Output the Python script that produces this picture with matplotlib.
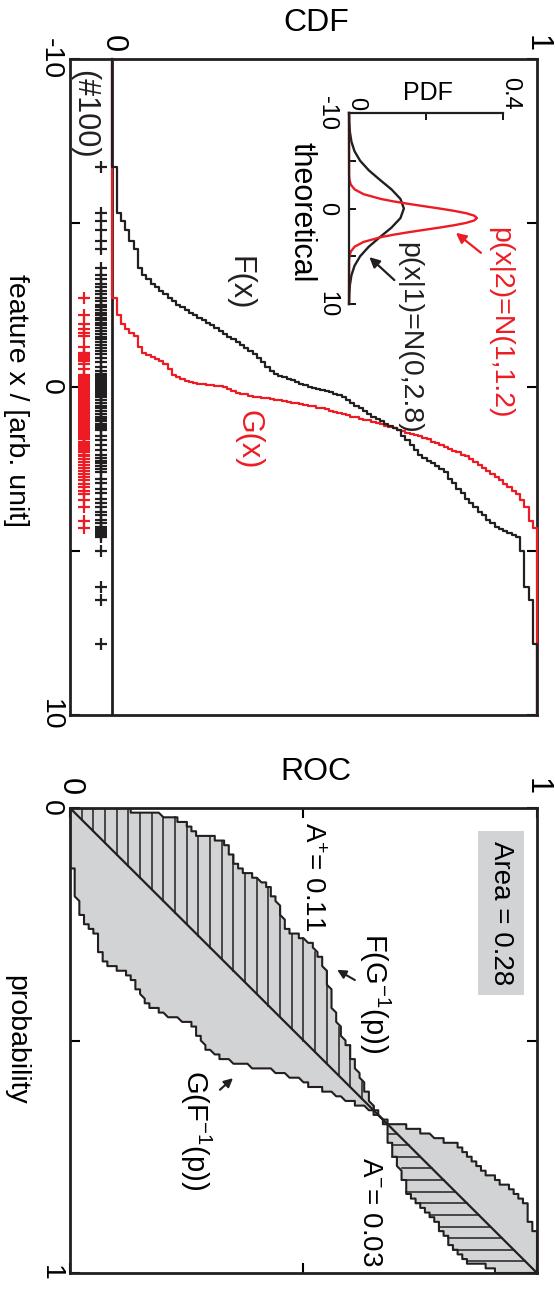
import numpy as np
import matplotlib
matplotlib.use('Agg')
import matplotlib.pyplot as plt

plt.rcParams['font.family'] = ['Liberation Sans', 'DejaVu Sans']
plt.rcParams['mathtext.fontset'] = 'custom'
plt.rcParams['mathtext.rm'] = 'Liberation Sans'
plt.rcParams['mathtext.it'] = 'Liberation Sans:italic'

RED = '#ed1c24'
BLK = '#231f20'
GRAY = '#d1d3d4'

# --- data: 100 samples of each class ---
feature_1 = [-6.70, -5.30, -5.05, -4.80, -4.45, -4.20, -3.62, -3.40, -3.28, -3.14,
             -3.05, -2.92, -2.83, -2.71, -2.62, -2.50, -2.45, -2.35, -2.27, -2.20,
             -2.10, -2.04, -1.94, -1.88, -1.79, -1.70, -1.62, -1.52, -1.45, -1.36,
             -1.27, -1.19, -1.11, -1.00, -0.88, -0.76, -0.62, -0.49, -0.40, -0.34,
             -0.29, -0.25, -0.21, -0.15, -0.10, -0.05, -0.01, 0.02, 0.05, 0.08,
             0.12, 0.16, 0.21, 0.25, 0.30, 0.40, 0.50, 0.58, 0.65, 0.72,
             0.81, 0.90, 0.97, 1.05, 1.12, 1.19, 1.25, 1.32, 1.48, 1.63,
             1.77, 1.92, 2.07, 2.16, 2.26, 2.33, 2.41, 2.51, 2.60, 2.79,
             2.92, 3.10, 3.22, 3.41, 3.55, 3.66, 3.80, 3.90, 4.04, 4.14,
             4.26, 4.32, 4.40, 4.44, 4.52, 4.57, 5.00, 6.10, 6.50, 7.85]

feature_2 = [-2.72, -2.20, -1.93, -1.77, -1.66, -1.55, -1.21, -1.05, -0.99, -0.91,
             -0.86, -0.78, -0.71, -0.55, -0.38, -0.29, -0.24, -0.19, -0.16, -0.12,
             -0.10, -0.08, -0.07, -0.05, -0.03, -0.02, 0.00, 0.06, 0.12, 0.18,
             0.21, 0.22, 0.26, 0.29, 0.30, 0.33, 0.35, 0.36, 0.40, 0.41,
             0.43, 0.46, 0.49, 0.50, 0.52, 0.55, 0.58, 0.59, 0.63, 0.65,
             0.68, 0.73, 0.75, 0.80, 0.82, 0.85, 0.90, 0.92, 0.97, 1.00,
             1.02, 1.07, 1.10, 1.12, 1.18, 1.21, 1.25, 1.31, 1.33, 1.39,
             1.43, 1.45, 1.50, 1.56, 1.60, 1.68, 1.71, 1.77, 1.84, 1.88,
             1.95, 1.99, 2.06, 2.10, 2.19, 2.28, 2.37, 2.46, 2.56, 2.65,
             2.74, 2.85, 2.95, 3.06, 3.16, 3.27, 3.45, 3.65, 4.10, 4.30]

# theoretical densities (inset), tabulated
pdf_x1 = [-10, -9, -8, -7, -6, -5, -4, -3, -2, -1, 0, 1, 2, 3, 4, 5, 6, 7, 8, 9, 10]
pdf_1 = [0.0002, 0.0008, 0.0024, 0.0063, 0.0143, 0.0289, 0.0514, 0.0803, 0.1104, 0.1337, 0.1425,
         0.1337, 0.1104, 0.0803, 0.0514, 0.0289, 0.0143, 0.0063, 0.0024, 0.0008, 0.0002]
pdf_x2 = [-10, -3.5, -3, -2.5, -2, -1.5, -1, -0.75, -0.5, -0.25, 0, 0.25, 0.5, 0.75, 1,
          1.25, 1.5, 1.75, 2, 2.25, 2.5, 2.75, 3, 3.5, 4, 4.5, 5, 5.5, 10]
pdf_2 = [0.0, 0.0003, 0.0013, 0.0047, 0.0146, 0.0379, 0.0829, 0.1148, 0.1522, 0.1932, 0.2349,
         0.2734, 0.3048, 0.3253, 0.3324, 0.3253, 0.3048, 0.2734, 0.2349, 0.1932, 0.1522,
         0.1148, 0.0829, 0.0379, 0.0146, 0.0047, 0.0013, 0.0003, 0.0]
pdf_ticks = [0, 0.4]
pdf_ticklabels = ['0', '0.4']

W, H = 555, 1289
fig = plt.figure(figsize=(W / 100, H / 100), dpi=100)


def rect(x0, y0, x1, y1):
    return [x0 / W, 1 - y1 / H, (x1 - x0) / W, (y1 - y0) / H]


def ftext(x, y, s, **kw):
    kw.setdefault('ha', 'center')
    kw.setdefault('va', 'center')
    fig.text(x / W, 1 - y / H, s, **kw)


def step_path(s):
    s = np.sort(s)
    n = s.size
    lev = np.arange(1, n + 1) / n
    xs = np.r_[-10, np.repeat(s, 2), 10]
    ys = np.r_[0, np.column_stack([lev - 1 / n, lev]).ravel(), 1]
    return ys, xs


def style_spines(ax, lw):
    for sp in ax.spines.values():
        sp.set_linewidth(lw)
        sp.set_color(BLK)


# ================= CDF panel =================
ax = fig.add_axes(rect(70, 59, 537, 715))
ax.set_xlim(-0.1, 1)
ax.set_ylim(10, -10)
style_spines(ax, 2.0)
ax.axvline(0, color=BLK, lw=2.0, zorder=2)

s1 = np.array(feature_1)
s2 = np.array(feature_2)
gx, gy = step_path(s2)
ax.plot(gx, gy, color=RED, lw=1.6, zorder=3, clip_on=False)
fx, fy = step_path(s1)
ax.plot(fx, fy, color=BLK, lw=1.6, zorder=3, clip_on=False)

ax.plot(np.full(s2.size, -0.068), s2, '+', color=RED, ms=8, mew=1.6)
ax.plot(np.full(s1.size, -0.026), s1, '+', color=BLK, ms=8, mew=1.6)

ax.xaxis.tick_top()
ax.set_xticks([0, 1])
ax.set_xticklabels(['0', '1'])
ax.tick_params(axis='x', length=0, pad=5, labelsize=22, labelrotation=-90)
ax.set_yticks([-10, -5, 0, 5, 10])
ax.set_yticklabels(['-10', '', '0', '', '10'])
ax.tick_params(axis='y', direction='in', length=7, width=1.5, left=True, right=True,
               pad=4.5, labelsize=20.5, labelrotation=-90)
plt.setp(ax.get_xticklabels(), ha='center', va='bottom')
plt.setp(ax.get_yticklabels(), ha='right', va='center')

ax.text(0.3, -3.17, 'F(x)', color=BLK, fontsize=22, rotation=-90, ha='center', va='center')
ax.text(0.32, 1.62, 'G(x)', color=RED, fontsize=22, rotation=-90, ha='center', va='center')
ax.text(-0.066, -8.3, '(#100)', color=BLK, fontsize=22, rotation=-90, ha='center', va='center')
ax.text(0.913, -1.95, 'p(x|2)=N(1,1.2)', color=RED, fontsize=20.5, rotation=-90,
        ha='center', va='center')
ax.text(0.70, -1.5, 'p(x|1)=N(0,2.8)', color=BLK, fontsize=20.5, rotation=-90,
        ha='center', va='center')
ax.annotate('', xy=(0.809, -4.7), xytext=(0.868, -4.09),
            arrowprops=dict(arrowstyle='-|>', color=RED, lw=1.6, mutation_scale=15,
                            shrinkA=0, shrinkB=0))
ax.annotate('', xy=(0.605, -3.96), xytext=(0.664, -3.26),
            arrowprops=dict(arrowstyle='-|>', color=BLK, lw=1.6, mutation_scale=15,
                            shrinkA=0, shrinkB=0))

ftext(316, 23, 'CDF', fontsize=23)
ftext(16, 400, 'feature x / [arb. unit]', fontsize=20.5, rotation=-90)

# inset: theoretical pdfs
ai = fig.add_axes(rect(349, 113, 503, 304))
ai.set_facecolor('none')
ai.set_xlim(0, 0.4)
ai.set_ylim(10, -10)
ai.spines['right'].set_visible(False)
ai.spines['bottom'].set_visible(False)
style_spines(ai, 1.6)
ai.plot(pdf_1, pdf_x1, color=BLK, lw=1.7, clip_on=False)
ai.plot(pdf_2, pdf_x2, color=RED, lw=1.7, clip_on=False)
ai.xaxis.tick_top()
ai.set_xticks([0, 0.2, 0.4])
ai.tick_params(axis='x', direction='in', length=5, width=1.3, labeltop=False,
               labelbottom=False)
for xt, lab in zip(pdf_ticks, pdf_ticklabels):
    ai.text(xt + 0.018, -10.35, lab, fontsize=17, rotation=-90, ha='center', va='bottom')
ai.set_yticks([-10, -5, 0, 5, 10])
ai.set_yticklabels(['-10', '', '0', '', '10'])
ai.tick_params(axis='y', direction='in', length=5, width=1.3, pad=8, labelsize=17,
               labelrotation=-90)
plt.setp(ai.get_yticklabels(), ha='right', va='center')
ftext(428, 93, 'PDF', fontsize=18)
ftext(301, 212, 'theoretical', fontsize=22, rotation=-90)

# ================= ROC panel =================
ar = fig.add_axes(rect(70, 808, 537, 1273))
ar.set_xlim(0, 1)
ar.set_ylim(1, 0)
style_spines(ar, 2.0)

grid = np.sort(np.r_[s1, s2])
F = np.r_[0, np.searchsorted(np.sort(s1), grid, side='right') / s1.size]
G = np.r_[0, np.searchsorted(np.sort(s2), grid, side='right') / s2.size]

# curve 1: F(G^-1(p)) -> horizontal F, vertical G ; curve 2 mirrored
ar.fill(np.r_[F, G[::-1]], np.r_[G, F[::-1]], color=GRAY, lw=0, zorder=1)

ss1, ss2 = np.sort(s1), np.sort(s2)
for k in range(1, 40):
    h = k / 40
    xh = ss1[int(np.ceil(h * ss1.size - 1e-9)) - 1]
    pc = np.searchsorted(ss2, xh, side='right') / ss2.size
    if pc < h:
        ar.plot([h, h], [pc, h], color=BLK, lw=1.1, zorder=2)
    p = k / 40
    xp = ss2[int(np.ceil(p * ss2.size - 1e-9)) - 1]
    hc = np.searchsorted(ss1, xp, side='right') / ss1.size
    if hc < p:
        ar.plot([hc, p], [p, p], color=BLK, lw=1.1, zorder=2)

ar.plot([0, 1], [0, 1], color=BLK, lw=1.6, zorder=3)
ar.plot(F, G, color=BLK, lw=1.5, zorder=3)
ar.plot(G, F, color=BLK, lw=1.5, zorder=3)

ar.set_xticks([0, 0.5, 1])
ar.set_xticklabels(['0', '', '1'])
ar.tick_params(axis='x', direction='in', length=7, width=1.5, top=True, bottom=True,
               labeltop=True, labelbottom=False, pad=9, labelsize=22, labelrotation=-90)
ar.set_yticks([0, 0.5, 1])
ar.set_yticklabels(['0', '', '1'])
ar.tick_params(axis='y', direction='in', length=7, width=1.5, left=True, right=True,
               pad=4.5, labelsize=20.5, labelrotation=-90)
plt.setp(ar.get_xticklabels(), ha='center', va='bottom')
plt.setp(ar.get_yticklabels(), ha='right', va='center')

ar.text(0.923, 0.226, 'Area = 0.28', fontsize=20, rotation=-90, ha='center', va='center',
        bbox=dict(boxstyle='square,pad=0.35', fc=GRAY, ec='none'))
ar.text(0.518, 0.148, 'A$^{+}$= 0.11', fontsize=20, rotation=-90, ha='center', va='center')
ar.text(0.642, 0.869, 'A$^{-}$= 0.03', fontsize=20, rotation=-90, ha='center', va='center')
ar.text(0.653, 0.398, 'F(G$^{-1}$(p))', fontsize=21, rotation=-90, ha='center', va='center')
ar.text(0.27, 0.692, 'G(F$^{-1}$(p))', fontsize=21, rotation=-90, ha='center', va='center')
ar.annotate('', xy=(0.572, 0.348), xytext=(0.61, 0.37),
            arrowprops=dict(arrowstyle='-|>', color=BLK, lw=1.5, mutation_scale=13,
                            shrinkA=0, shrinkB=0))
ar.annotate('', xy=(0.349, 0.581), xytext=(0.321, 0.606),
            arrowprops=dict(arrowstyle='-|>', color=BLK, lw=1.5, mutation_scale=13,
                            shrinkA=0, shrinkB=0))

ftext(316, 772, 'ROC', fontsize=23)
ftext(16, 1040, 'probability', fontsize=20.5, rotation=-90)

fig.savefig('out.png', dpi=100)
